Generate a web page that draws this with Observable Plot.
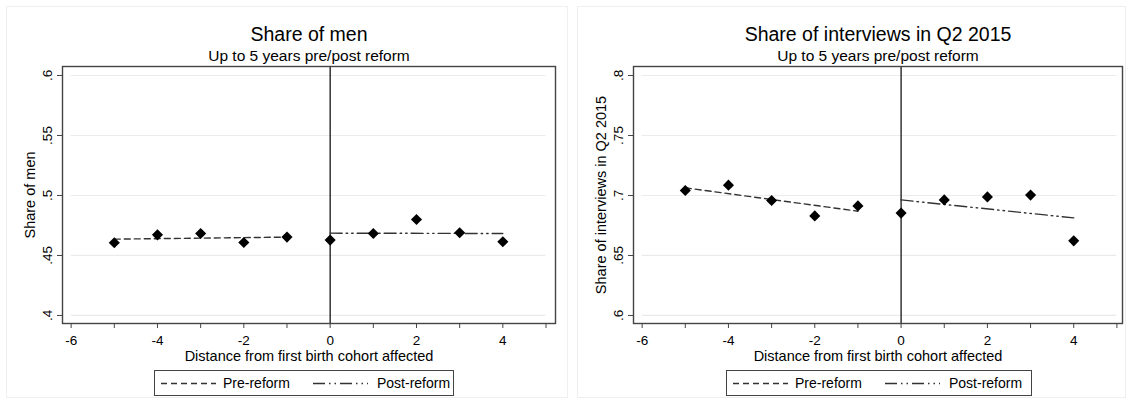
<!DOCTYPE html>
<html>
<head>
<meta charset="utf-8">
<script src="https://cdn.jsdelivr.net/npm/d3@7"></script>
<script src="https://cdn.jsdelivr.net/npm/@observablehq/plot@0.6"></script>
<style>
  html, body { margin: 0; padding: 0; background: #fff; }
  #root { position: relative; width: 1132px; height: 400px; font-family: "Liberation Sans", Arial, sans-serif; color: #000; }
  .panel { position: absolute; top: 0; width: 566px; height: 400px; }
  .panel svg { position: absolute; left: 0; top: 0; }
  .outer { position: absolute; border: 1px solid #efefef; box-sizing: border-box; }
  .legend { position: absolute; top: 370px; height: 26px; border: 1px solid #444; box-sizing: border-box; background: #fff; }
  .legend .sw { position: absolute; top: 0; height: 24px; }
  .legend .lab { position: absolute; top: 0; font-size: 14px; line-height: 24px; white-space: nowrap; }
</style>
</head>
<body>
<div id="root"></div>
<script>
// ---- data ----
const cohort = [-5, -4, -3, -2, -1, 0, 1, 2, 3, 4];
const shareMen = [0.4606, 0.4672, 0.4683, 0.4608, 0.4653, 0.4628, 0.4683, 0.4800, 0.4689, 0.4614];
const shareQ2 = [0.7042, 0.7086, 0.6958, 0.6830, 0.6913, 0.6853, 0.6963, 0.6988, 0.7003, 0.6622];
const preFitX = [-5, -1];
const postFitX = [0, 4];
const menPreFit = [0.4636, 0.4653];
const menPostFit = [0.4686, 0.4683];
const q2PreFit = [0.7064, 0.6869];
const q2PostFit = [0.6963, 0.6813];
const xTicks = [-6, -5, -4, -3, -2, -1, 0, 1, 2, 3, 4, 5];
const menTicks = [0.4, 0.45, 0.5, 0.55, 0.6];
const q2Ticks = [0.6, 0.65, 0.7, 0.75, 0.8];
const titles = ["Share of men", "Share of interviews in Q2 2015"];
const yLabels = ["Share of men", "Share of interviews in Q2 2015"];
const subtitle = "Up to 5 years pre/post reform";
const xLabel = "Distance from first birth cohort affected";
const legendLabels = ["Pre-reform", "Post-reform"];

const preDash = "6,4";
const postDash = "12,4,1.5,4,1.5,4";
const lineColor = "#333";

function makePanel(cfg) {
  const pts = cohort.map((x, i) => ({x, y: cfg.values[i]}));
  const pre = preFitX.map((x, i) => ({x, y: cfg.preFit[i]}));
  const post = postFitX.map((x, i) => ({x, y: cfg.postFit[i]}));
  return Plot.plot({
    width: 566,
    height: 400,
    marginTop: 66,
    marginBottom: 77,
    marginLeft: cfg.marginLeft,
    marginRight: cfg.marginRight,
    style: {fontFamily: "'Liberation Sans', Arial, sans-serif", fontSize: "14px", color: "#000", background: "transparent", overflow: "visible"},
    x: {domain: cfg.xDomain},
    y: {domain: cfg.yDomain},
    marks: [
      Plot.ruleY(cfg.yTicks, {x1: xTicks[0], x2: xTicks[xTicks.length - 1], stroke: "#ebebeb", strokeWidth: 1.2}),
      Plot.ruleX([0], {stroke: "#000", strokeWidth: 1.2}),
      Plot.line(pre, {x: "x", y: "y", stroke: lineColor, strokeWidth: 1.4, strokeDasharray: preDash}),
      Plot.line(post, {x: "x", y: "y", stroke: lineColor, strokeWidth: 1.4, strokeDasharray: postDash}),
      Plot.dot(pts, {x: "x", y: "y", symbol: "diamond2", r: 5, fill: "#000", stroke: null}),
      Plot.frame({stroke: "#444", strokeWidth: 1.4}),
      Plot.axisX(xTicks, {tickSize: 5, tickPadding: 6.5, stroke: "#444", fill: "#000", fontSize: 13.5,
        tickFormat: d => d % 2 === 0 ? String(d) : "", label: null}),
      Plot.axisY(cfg.yTicks, {tickSize: 5, tickRotate: -90, tickPadding: 6, stroke: "#444", fill: "#000", fontSize: 13.5,
        tickFormat: d => String(d).replace(/^0/, ""), label: null}),
      Plot.text([cfg.title], {frameAnchor: "top", dy: -26, lineAnchor: "bottom", fontSize: 19.5, fill: "#000"}),
      Plot.text([subtitle], {frameAnchor: "top", dy: -6, lineAnchor: "bottom", fontSize: 15.5, fill: "#000"}),
      Plot.text([cfg.ylabel], {frameAnchor: "left", dx: -32, rotate: -90, textAnchor: "middle", lineAnchor: "middle", fontSize: 14.5, fill: "#000"}),
      Plot.text([xLabel], {frameAnchor: "bottom", dy: 37, lineAnchor: "bottom", fontSize: 14.5, fill: "#000"})
    ]
  });
}

function swatch(dash, w) {
  const ns = "http://www.w3.org/2000/svg";
  const s = document.createElementNS(ns, "svg");
  s.setAttribute("width", w);
  s.setAttribute("height", 24);
  const l = document.createElementNS(ns, "line");
  l.setAttribute("x1", 0); l.setAttribute("x2", w);
  l.setAttribute("y1", 12.5); l.setAttribute("y2", 12.5);
  l.setAttribute("stroke", lineColor);
  l.setAttribute("stroke-width", 1.4);
  l.setAttribute("stroke-dasharray", dash);
  s.appendChild(l);
  return s;
}

function makeLegend(left, width) {
  const box = document.createElement("div");
  box.className = "legend";
  box.style.left = left + "px";
  box.style.width = width + "px";
  const items = [
    {dash: preDash, sx: 6, tx: 68, label: legendLabels[0]},
    {dash: postDash, sx: 158, tx: 222, label: legendLabels[1]}
  ];
  for (const it of items) {
    const sw = document.createElement("div");
    sw.className = "sw";
    sw.style.left = it.sx + "px";
    sw.appendChild(swatch(it.dash, 55));
    box.appendChild(sw);
    const lab = document.createElement("div");
    lab.className = "lab";
    lab.style.left = it.tx + "px";
    lab.textContent = it.label;
    box.appendChild(lab);
  }
  return box;
}

const root = document.getElementById("root");
const configs = [
  {left: 0, values: shareMen, preFit: menPreFit, postFit: menPostFit, yTicks: menTicks, yDomain: [0.3933, 0.6075],
   xDomain: [-6.2, 5.22], title: titles[0], ylabel: yLabels[0], marginLeft: 62, marginRight: 11,
   outer: [6, 562], legendLeft: 154, legendWidth: 300},
  {left: 566, values: shareQ2, preFit: q2PreFit, postFit: q2PostFit, yTicks: q2Ticks, yDomain: [0.5933, 0.8075],
   xDomain: [-6.2, 5.13], title: titles[1], ylabel: yLabels[1], marginLeft: 67, marginRight: 10,
   outer: [11, 549], legendLeft: 160, legendWidth: 306}
];
for (const c of configs) {
  const p = document.createElement("div");
  p.className = "panel";
  p.style.left = c.left + "px";
  const o = document.createElement("div");
  o.className = "outer";
  o.style.left = c.outer[0] + "px";
  o.style.top = "6px";
  o.style.width = c.outer[1] + "px";
  o.style.height = "392px";
  p.appendChild(o);
  p.appendChild(makePanel(c));
  p.appendChild(makeLegend(c.legendLeft, c.legendWidth));
  root.appendChild(p);
}
</script>
</body>
</html>
